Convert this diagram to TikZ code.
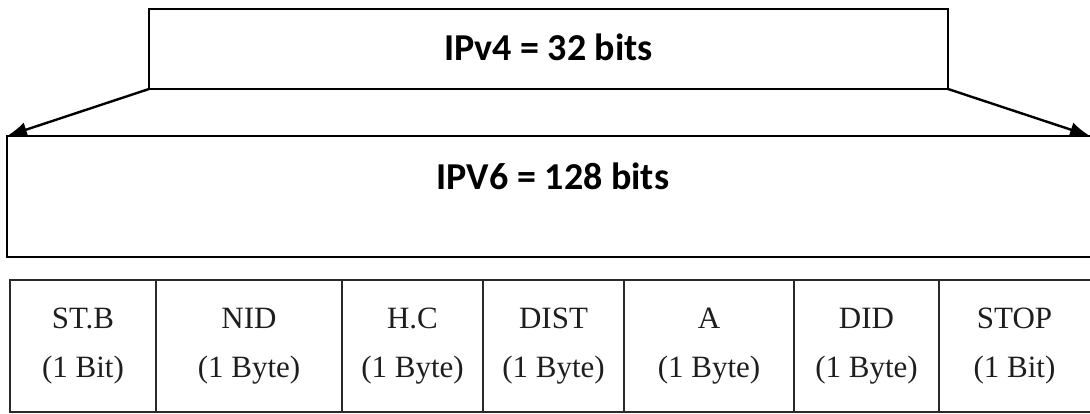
\documentclass[tikz,border=0pt]{standalone}
\usepackage{fontspec}
\setmainfont{Liberation Serif}
\newfontfamily\headfont{Carlito}
\usetikzlibrary{arrows.meta}
\definecolor{gridgray}{HTML}{2A2A2A}
\definecolor{txtgray}{HTML}{1E1E1E}
\begin{document}
\begin{tikzpicture}[x=1pt,y=1pt,
  bigbox/.style={draw=black, line width=2.6pt, minimum width=#1, inner sep=0pt, outer sep=0pt},
  headtxt/.style={font=\headfont\bfseries\fontsize{38}{40}\selectfont},
  cell/.style={minimum width=#1, minimum height=132pt, inner sep=0pt, outer sep=0pt,
    align=center, text=txtgray, font=\fontsize{31}{49}\selectfont},
  gridline/.style={draw=gridgray, line width=2.2pt},
  arr/.style={line width=2.4pt, -{Latex[length=20pt,width=15pt,fill=black]}}
]
\useasboundingbox (0,0) rectangle (1090,-414);
% IPv4 box
\node[bigbox=799pt, minimum height=80pt] (v4) at (548.5,-49) {};
\node[headtxt] (v4t) at (548.5,-47) {IPv4 = 32 bits};
% IPv6 box (open on the right)
\node[minimum width=1083pt, minimum height=121pt, inner sep=0pt, outer sep=0pt] (v6) at (548.5,-196.5) {};
\draw[line width=2.6pt, line cap=rect] (v6.north east) -- (v6.north west) -- (v6.south west) -- (v6.south east);
\node[headtxt] (v6t) at (553,-176) {IPV6 = 128 bits};
% arrows
\draw[arr] (v4.south west) -- (v6.north west);
\draw[arr] (v4.south east) -- (v6.north east);
% table cells
\node[cell=146pt] (c1) at (83,-346) {ST.B\\(1 Bit)};
\node[cell=186pt] (c2) at (249,-346) {NID\\(1 Byte)};
\node[cell=141pt] (c3) at (412.5,-346) {H.C\\(1 Byte)};
\node[cell=141pt] (c4) at (553.5,-346) {DIST\\(1 Byte)};
\node[cell=170pt] (c5) at (709,-346) {A\\(1 Byte)};
\node[cell=145pt] (c6) at (866.5,-346) {DID\\(1 Byte)};
\node[cell=151pt] (c7) at (1014.5,-346) {STOP\\(1 Bit)};
\draw[gridline] (c7.north east) -- (c1.north west) -- (c1.south west) -- (c7.south east);
\foreach \c in {c1,c2,c3,c4,c5,c6}
  \draw[gridline] (\c.north east) -- (\c.south east);
\end{tikzpicture}
\end{document}
